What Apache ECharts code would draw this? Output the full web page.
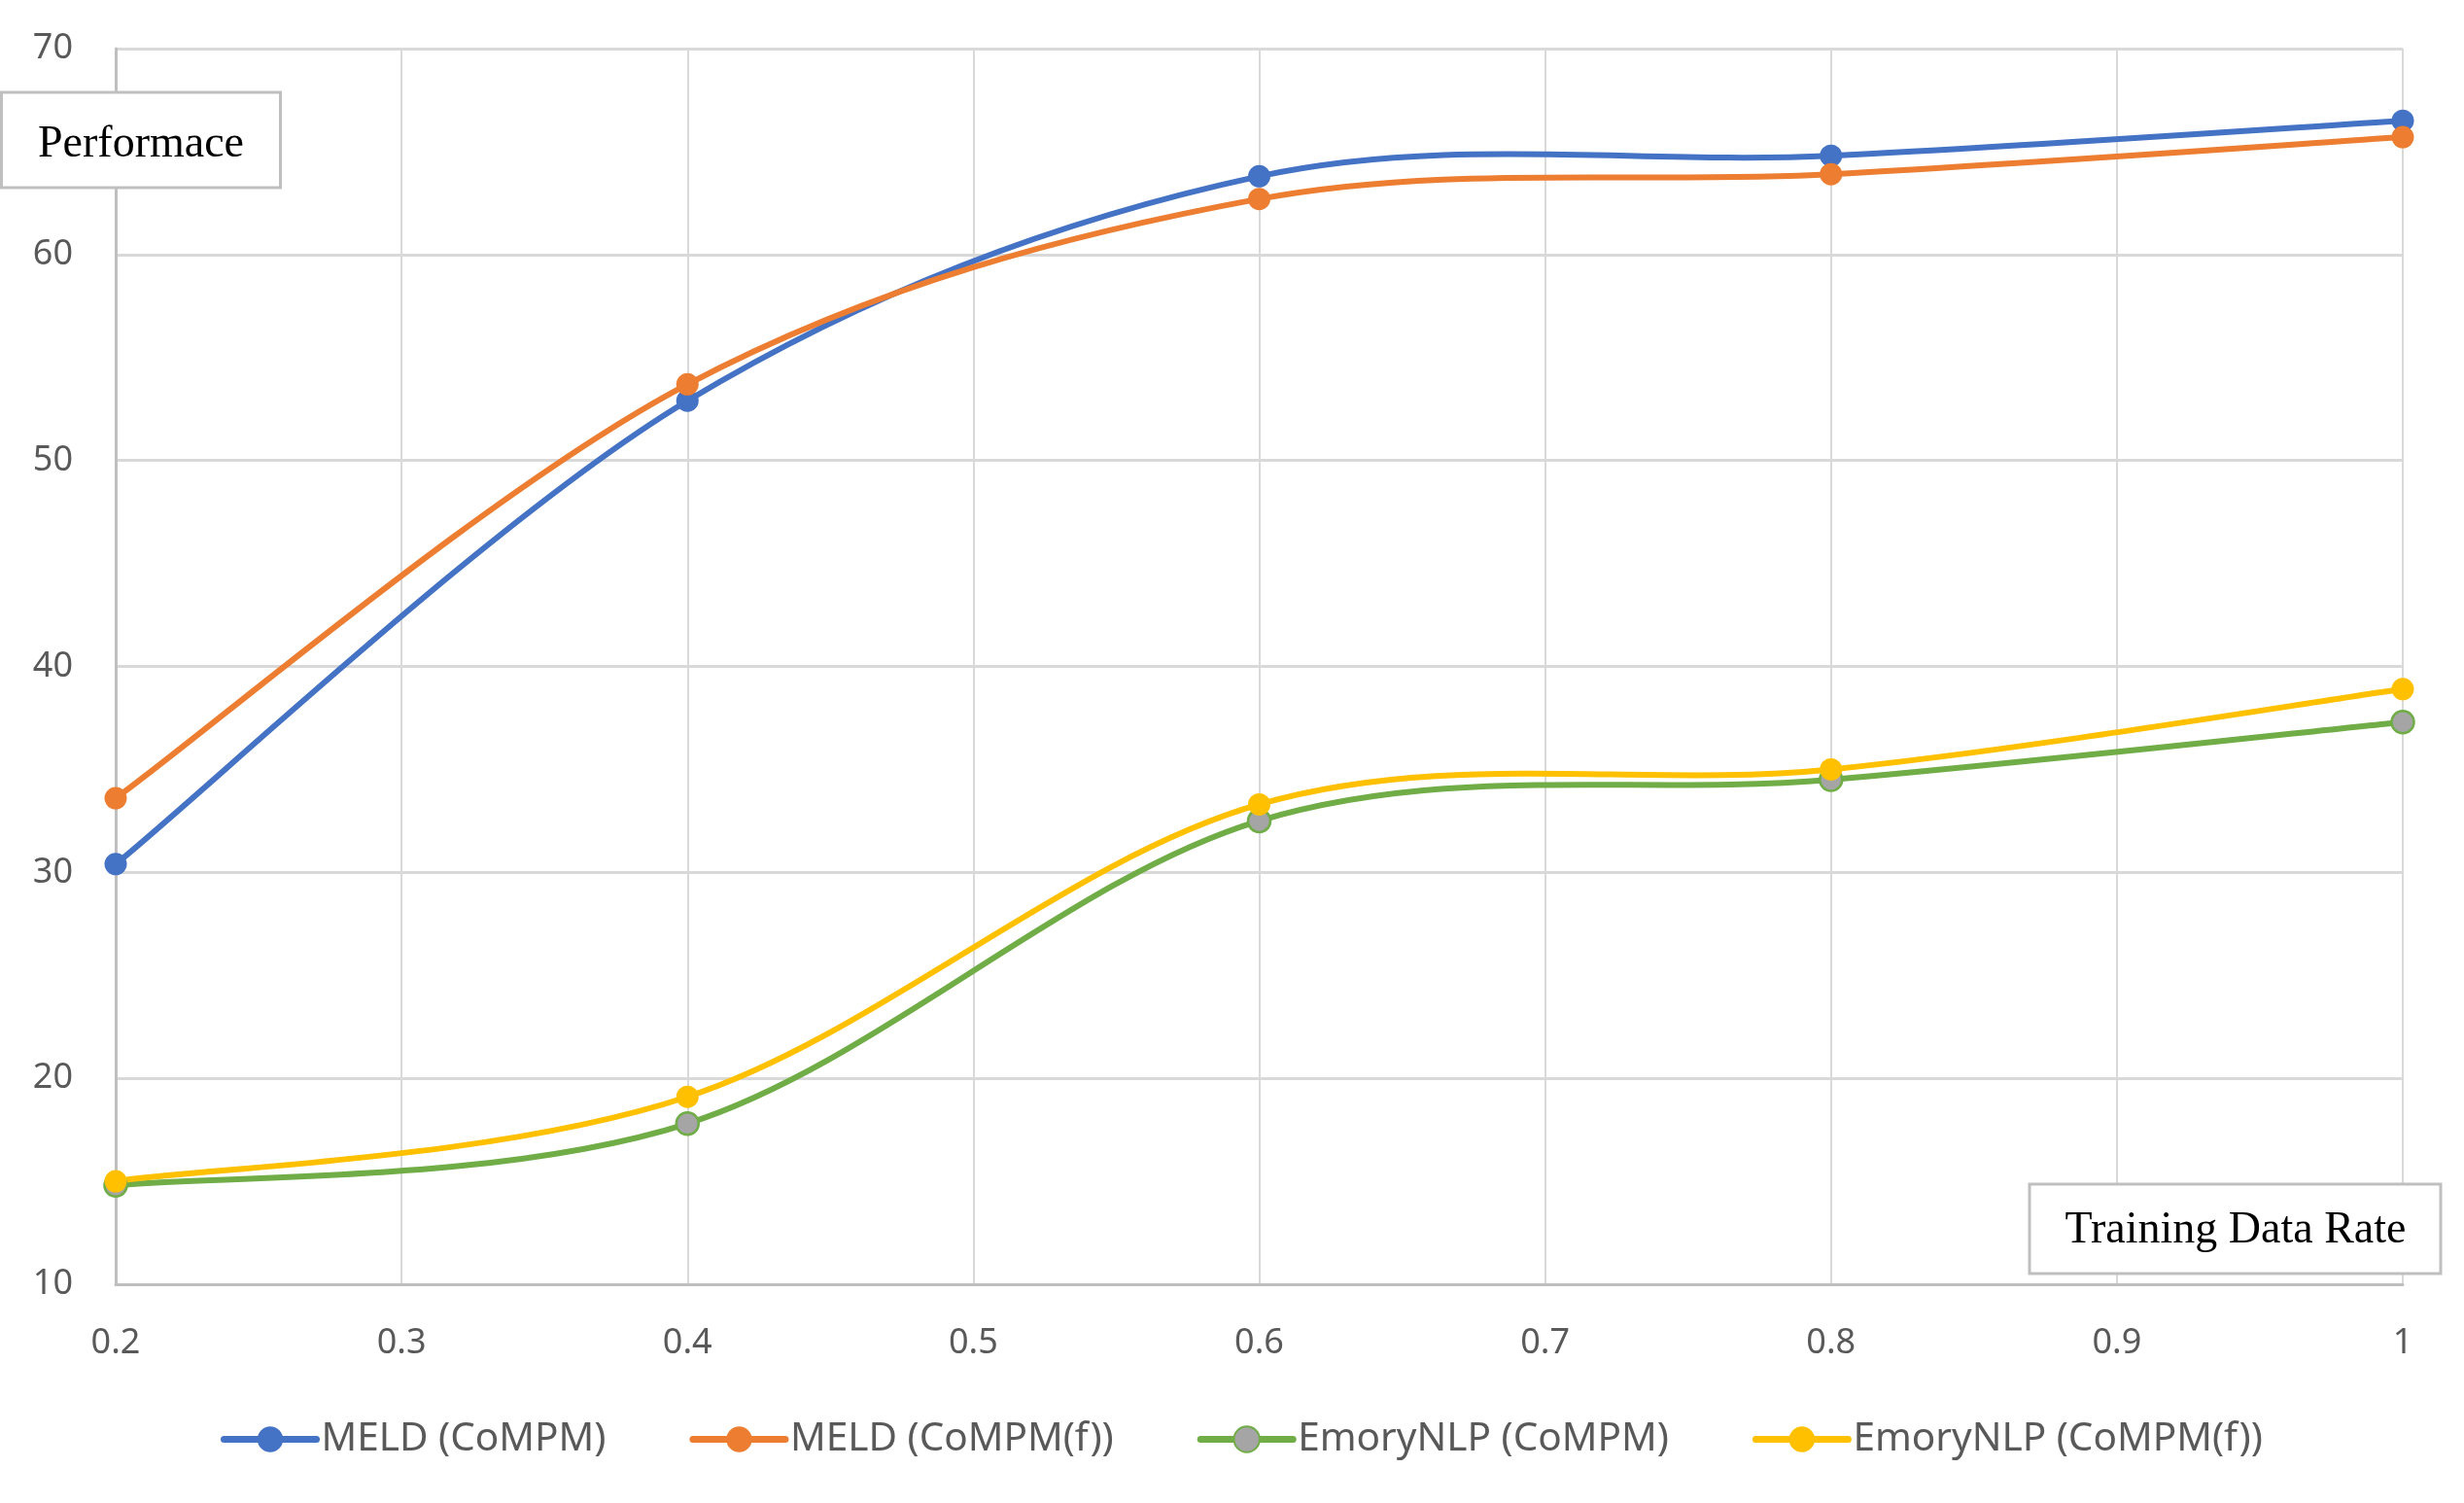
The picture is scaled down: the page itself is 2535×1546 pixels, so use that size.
<!DOCTYPE html>
<html>
<head>
<meta charset="utf-8">
<script src="https://cdn.jsdelivr.net/npm/echarts@6/dist/echarts.min.js"></script>
<style>
html,body{margin:0;padding:0;background:#fff;}
#c{width:2535px;height:1546px;}
</style>
</head>
<body>
<div id="c"></div>
<script>
var rates = [0.2, 0.4, 0.6, 0.8, 1];
var seriesNames = ['MELD (CoMPM)', 'MELD (CoMPM(f))', 'EmoryNLP (CoMPM)', 'EmoryNLP (CoMPM(f))'];
var meldCoMPM = [30.4, 52.9, 63.8, 64.8, 66.5];
var meldCoMPMf = [33.6, 53.7, 62.7, 63.9, 65.7];
var emoryCoMPM = [14.8, 17.8, 32.5, 34.5, 37.3];
var emoryCoMPMf = [15.0, 19.1, 33.3, 35.0, 38.9];
var yTicks = {min: 10, max: 70, interval: 10};
var xTicks = {min: 0.2, max: 1, interval: 0.1};

function pairs(vals) { return rates.map(function (r, i) { return [r, vals[i]]; }); }

var lineColors = ['#4472C4', '#ED7D31', '#70AD47', '#FFC000'];
var markerColors = ['#4472C4', '#ED7D31', '#A5A5A5', '#FFC000'];
var allVals = [meldCoMPM, meldCoMPMf, emoryCoMPM, emoryCoMPMf];

// Smoothed (Catmull-Rom style) segment from point idx to idx+1, positioned via the axes
function curveRenderer(vals, color) {
  return function (params, api) {
    var i = params.dataIndex;
    var n = rates.length;
    if (i >= n - 1) return null;
    var pt = function (k) {
      k = Math.max(0, Math.min(n - 1, k));
      return api.coord([rates[k], vals[k]]);
    };
    var p0 = pt(i - 1), p1 = pt(i), p2 = pt(i + 1), p3 = pt(i + 2);
    return {
      type: 'bezierCurve',
      shape: {
        x1: p1[0], y1: p1[1], x2: p2[0], y2: p2[1],
        cpx1: p1[0] + (p2[0] - p0[0]) / 6, cpy1: p1[1] + (p2[1] - p0[1]) / 6,
        cpx2: p2[0] - (p3[0] - p1[0]) / 6, cpy2: p2[1] - (p3[1] - p1[1]) / 6
      },
      style: {stroke: color, lineWidth: 6, fill: null, lineCap: 'round'},
      silent: true
    };
  };
}

var series = [];
allVals.forEach(function (vals, i) {
  series.push({
    name: seriesNames[i] + ' curve', type: 'custom', z: 2,
    data: pairs(vals), encode: {x: 0, y: 1},
    renderItem: curveRenderer(vals, lineColors[i])
  });
});
allVals.forEach(function (vals, i) {
  series.push({
    name: seriesNames[i], type: 'line', z: 3, smooth: false,
    data: pairs(vals),
    symbol: 'circle', symbolSize: 23,
    lineStyle: {color: lineColors[i], width: 6, opacity: 0},
    itemStyle: {color: markerColors[i], borderColor: lineColors[i], borderWidth: i === 2 ? 2.5 : 0}
  });
});

var chart = echarts.init(document.getElementById('c'));
chart.setOption({
  animation: false,
  backgroundColor: '#fff',
  grid: {left: 119, right: 63, top: 50, bottom: 225},
  xAxis: {
    type: 'value', min: xTicks.min, max: xTicks.max, interval: xTicks.interval,
    axisLine: {show: true, lineStyle: {color: '#BFBFBF', width: 3}},
    axisTick: {show: false},
    axisLabel: {color: '#595959', fontSize: 36, fontFamily: 'Noto Sans', margin: 43,
      formatter: function (v) { return String(Math.round(v * 10) / 10); }},
    splitLine: {show: true, lineStyle: {color: '#D9D9D9', width: 2}}
  },
  yAxis: {
    type: 'value', min: yTicks.min, max: yTicks.max, interval: yTicks.interval,
    axisLine: {show: true, lineStyle: {color: '#BFBFBF', width: 3}},
    axisTick: {show: false},
    axisLabel: {color: '#595959', fontSize: 36, fontFamily: 'Noto Sans', margin: 44},
    splitLine: {show: true, lineStyle: {color: '#D9D9D9', width: 3}}
  },
  legend: {
    left: 222, top: 1455,
    itemWidth: 95, itemHeight: 33, itemGap: 86,
    textStyle: {color: '#595959', fontSize: 40.5, fontFamily: 'Noto Sans'},
    lineStyle: {width: 7, opacity: 1, cap: 'round'},
    data: seriesNames
  },
  series: series,
  graphic: [
    {type: 'rect', shape: {x: 1.5, y: 95, width: 287, height: 98},
      style: {fill: '#fff', stroke: '#BFBFBF', lineWidth: 3}, z: 100},
    {type: 'text', x: 145, y: 149, z: 101,
      style: {text: 'Performace', font: '46px "Liberation Serif"', fill: '#000', align: 'center', verticalAlign: 'middle'}},
    {type: 'rect', shape: {x: 2088, y: 1218, width: 423, height: 92},
      style: {fill: '#fff', stroke: '#BFBFBF', lineWidth: 3}, z: 100},
    {type: 'text', x: 2300, y: 1266, z: 101,
      style: {text: 'Training Data Rate', font: '46px "Liberation Serif"', fill: '#000', align: 'center', verticalAlign: 'middle'}}
  ]
});
</script>
</body>
</html>
